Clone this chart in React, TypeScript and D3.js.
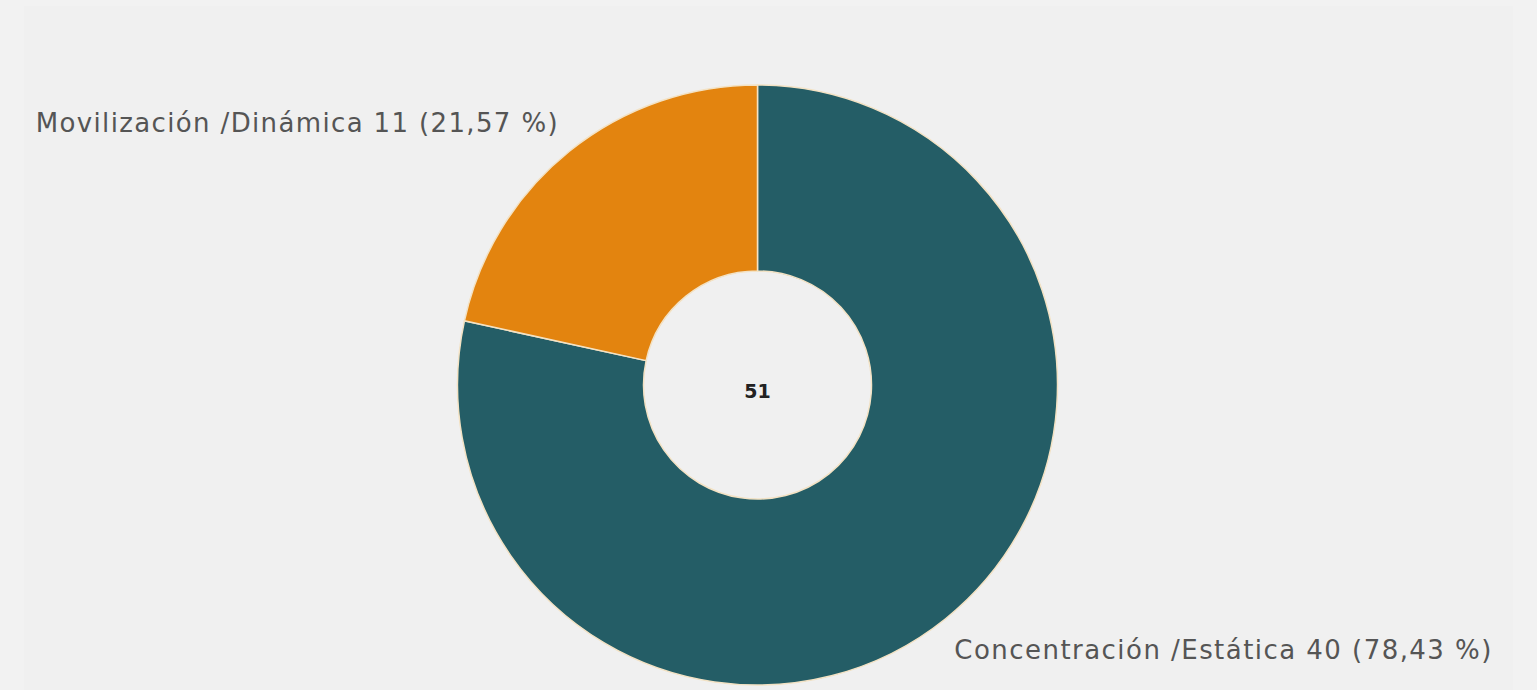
import React from "react";
import * as d3 from "d3";

const categories = ["Concentración /Estática", "Movilización /Dinámica"];
const values = [40, 11];
const percentLabels = ["78,43 %", "21,57 %"];
const colors = ["#245d66", "#e3840f"];

const W = 1537;
const H = 690;

export default function App() {
  const cx = 757.5;
  const cy = 385;
  const R = 300;
  const r = 114;
  const total = d3.sum(values);
  const pie = d3.pie<number>().sort(null).value((d) => d);
  const arcs = pie(values);
  const arcGen = d3.arc<d3.PieArcDatum<number>>().innerRadius(r).outerRadius(R);

  const labelPos = (a: d3.PieArcDatum<number>, rad: number) => {
    const m = (a.startAngle + a.endAngle) / 2;
    return [cx + rad * Math.sin(m), cy - rad * Math.cos(m)];
  };

  return (
    <svg
      width={W}
      height={H}
      style={{ position: "absolute", left: 0, top: 0, display: "block" }}
    >
      <rect x={0} y={0} width={W} height={H} fill="#f2f2f2" />
      <rect x={24} y={6} width={W - 48} height={H - 6} fill="#f0f0f0" />
      <g transform={`translate(${cx},${cy})`}>
        {arcs.map((a, i) => (
          <path
            key={i}
            d={arcGen(a) || ""}
            fill={colors[i]}
            stroke="#f3e2c4"
            strokeWidth={1.5}
          />
        ))}
      </g>
      <text
        x={cx}
        y={cy + 13}
        textAnchor="middle"
        fontFamily="'DejaVu Sans', sans-serif"
        fontWeight="bold"
        fontSize={19}
        fill="#222"
      >
        {total}
      </text>
      {arcs.map((a, i) => {
        const isRight = (a.startAngle + a.endAngle) / 2 < Math.PI;
        const [x, y] = labelPos(a, 322);
        const label = `${categories[i]} ${values[i]} (${percentLabels[i]})`;
        return (
          <text
            key={i}
            x={isRight ? x - 5 : x + 2}
            y={isRight ? y + 23 : y - 2}
            textAnchor={isRight ? "start" : "end"}
            fontFamily="'DejaVu Sans', sans-serif"
            fontSize={26}
            fill="#555"
            textLength={isRight ? 537 : 522}
            lengthAdjust="spacing"
          >
            {label}
          </text>
        );
      })}
    </svg>
  );
}
